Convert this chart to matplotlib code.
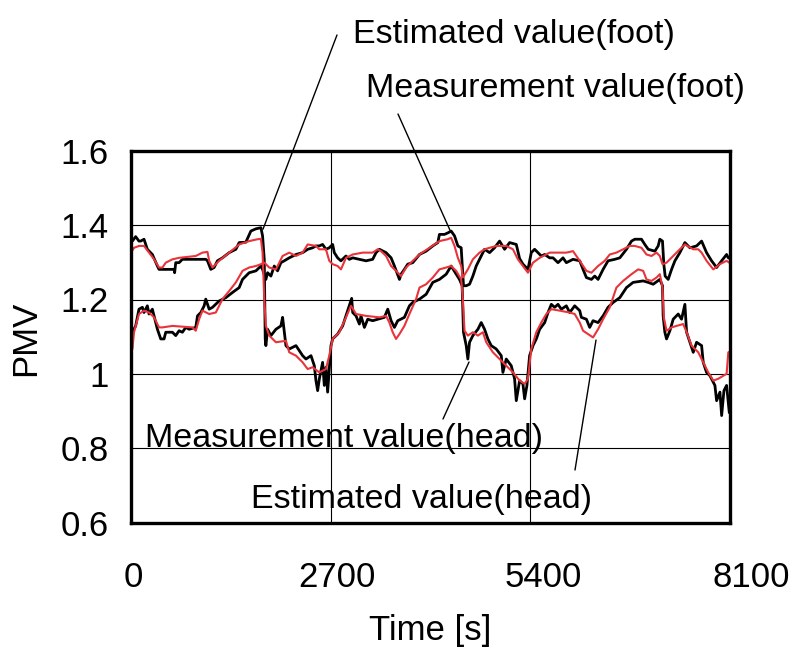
import matplotlib
matplotlib.use("Agg")
import matplotlib.pyplot as plt

plt.rcParams['font.family'] = ['Liberation Sans', 'DejaVu Sans']

# head sensor, measured
t_head_meas = [0, 18, 63, 108, 131, 176, 221, 289, 357, 379, 470, 583, 590, 605, 650, 695,
               1011, 1034, 1079, 1124, 1169, 1237, 1328, 1418, 1463, 1553, 1621, 1689, 1757,
               1779, 1802, 1815, 1824, 1847, 1892, 1960, 2027, 2050, 2072, 2095, 2140, 2231,
               2321, 2366, 2434, 2479, 2501, 2524, 2547, 2591, 2614, 2636, 2659, 2681, 2704,
               2727, 2794, 2862, 2907, 2952, 2984, 2998, 3043, 3088, 3110, 3156, 3201, 3268,
               3336, 3426, 3472, 3517, 3562, 3607, 3697, 3765, 3810, 3901, 3991, 4081, 4171,
               4262, 4329, 4397, 4442, 4478, 4496, 4533, 4555, 4578, 4623, 4691, 4736, 4781,
               4826, 4871, 4939, 5007, 5029, 5074, 5142, 5187, 5210, 5255, 5300, 5323, 5354,
               5390, 5436, 5481, 5526, 5594, 5639, 5684, 5729, 5774, 5819, 5887, 5932, 6000,
               6068, 6090, 6158, 6203, 6248, 6316, 6384, 6451, 6519, 6610, 6700, 6790, 6926,
               6994, 7061, 7151, 7187, 7196, 7219, 7242, 7287, 7332, 7400, 7445, 7490, 7513,
               7558, 7603, 7648, 7716, 7738, 7783, 7829, 7896, 7919, 7964, 7987, 8018, 8054,
               8090]
head_meas = [1.360, 1.357, 1.369, 1.357, 1.357, 1.362, 1.335, 1.321, 1.290, 1.281, 1.281,
             1.281, 1.272, 1.299, 1.299, 1.308, 1.308, 1.304, 1.281, 1.286, 1.304, 1.312,
             1.326, 1.335, 1.353, 1.354, 1.384, 1.390, 1.393, 1.371, 1.308, 1.094, 1.076,
             1.120, 1.103, 1.120, 1.129, 1.152, 1.116, 1.076, 1.067, 1.076, 1.049, 1.040,
             1.049, 1.022, 0.982, 0.955, 0.987, 1.031, 0.969, 1.018, 0.951, 1.013, 1.076,
             1.094, 1.107, 1.129, 1.156, 1.183, 1.203, 1.165, 1.156, 1.134, 1.156, 1.125,
             1.147, 1.143, 1.147, 1.152, 1.174, 1.143, 1.125, 1.143, 1.152, 1.183, 1.192,
             1.201, 1.214, 1.246, 1.254, 1.268, 1.290, 1.268, 1.254, 1.237, 1.112, 1.076,
             1.040, 1.085, 1.103, 1.120, 1.138, 1.120, 1.094, 1.076, 1.067, 1.049, 1.004,
             1.040, 1.022, 0.987, 0.928, 0.982, 0.973, 0.933, 0.969, 1.049, 1.076, 1.094,
             1.120, 1.138, 1.165, 1.187, 1.179, 1.187, 1.174, 1.183, 1.165, 1.183, 1.170,
             1.152, 1.147, 1.125, 1.143, 1.138, 1.156, 1.179, 1.192, 1.205, 1.232, 1.246,
             1.250, 1.246, 1.241, 1.254, 1.237, 1.156, 1.112, 1.094, 1.116, 1.147, 1.161,
             1.147, 1.187, 1.112, 1.085, 1.058, 1.085, 1.076, 1.031, 1.004, 0.995, 0.969,
             0.928, 0.951, 0.888, 0.955, 0.969, 0.897]

# head sensor, estimated
t_head_est = [0, 41, 108, 176, 244, 312, 379, 425, 470, 560, 650, 876, 966, 1034, 1057, 1102,
              1192, 1328, 1463, 1598, 1711, 1757, 1779, 1802, 1824, 1869, 1960, 2095, 2140,
              2231, 2321, 2389, 2456, 2546, 2636, 2681, 2727, 2817, 2907, 2975, 3043, 3178,
              3359, 3449, 3494, 3539, 3584, 3630, 3697, 3765, 3855, 3901, 3991, 4081, 4171,
              4262, 4329, 4397, 4465, 4487, 4510, 4555, 4623, 4691, 4758, 4804, 4894, 4984,
              5074, 5165, 5255, 5323, 5368, 5413, 5481, 5548, 5616, 5684, 5797, 5932, 6000,
              6068, 6113, 6181, 6248, 6316, 6384, 6474, 6564, 6655, 6768, 6858, 6926, 6971,
              7039, 7106, 7151, 7187, 7205, 7242, 7310, 7377, 7467, 7513, 7580, 7671, 7738,
              7806, 7874, 7942, 8009, 8054, 8077, 8100]
head_est = [1.326, 1.339, 1.344, 1.344, 1.326, 1.308, 1.286, 1.286, 1.299, 1.308, 1.312,
            1.317, 1.326, 1.328, 1.304, 1.286, 1.304, 1.326, 1.348, 1.357, 1.362, 1.363,
            1.326, 1.201, 1.129, 1.103, 1.085, 1.089, 1.058, 1.049, 1.031, 1.013, 1.018,
            1.004, 1.013, 1.049, 1.094, 1.112, 1.152, 1.183, 1.161, 1.156, 1.152, 1.156,
            1.138, 1.112, 1.094, 1.107, 1.129, 1.161, 1.201, 1.232, 1.241, 1.259, 1.281,
            1.286, 1.290, 1.277, 1.254, 1.201, 1.116, 1.103, 1.112, 1.103, 1.112, 1.085,
            1.058, 1.040, 1.022, 1.004, 0.982, 0.973, 0.987, 1.067, 1.112, 1.138, 1.161,
            1.174, 1.170, 1.165, 1.161, 1.138, 1.116, 1.107, 1.098, 1.120, 1.147, 1.179,
            1.232, 1.250, 1.268, 1.281, 1.277, 1.254, 1.250, 1.259, 1.268, 1.232, 1.152,
            1.116, 1.125, 1.129, 1.134, 1.112, 1.076, 1.058, 1.031, 1.004, 0.982, 0.987,
            0.995, 1.000, 1.058, 1.060]

# foot sensor, measured
t_foot_meas = [0, 18, 63, 108, 154, 176, 221, 244, 289, 312, 357, 402, 447, 470, 560, 605,
               650, 695, 741, 786, 876, 899, 944, 989, 1011, 1057, 1102, 1192, 1282, 1373,
               1463, 1508, 1598, 1689, 1757, 1779, 1824, 1847, 1892, 1937, 1982, 2027, 2072,
               2140, 2231, 2321, 2389, 2456, 2501, 2546, 2591, 2636, 2681, 2727, 2749, 2794,
               2839, 2907, 2952, 2998, 3088, 3178, 3268, 3314, 3359, 3449, 3517, 3562, 3630,
               3652, 3697, 3742, 3810, 3901, 3991, 4081, 4149, 4171, 4239, 4284, 4329, 4375,
               4420, 4465, 4496, 4533, 4578, 4623, 4668, 4713, 4781, 4849, 4916, 4984, 5052,
               5120, 5210, 5255, 5300, 5368, 5413, 5458, 5503, 5548, 5594, 5661, 5707, 5774,
               5842, 5887, 5977, 6068, 6113, 6158, 6226, 6271, 6316, 6384, 6451, 6542, 6610,
               6700, 6768, 6813, 6903, 6948, 6994, 7084, 7129, 7151, 7187, 7205, 7223, 7264,
               7310, 7355, 7422, 7490, 7558, 7648, 7716, 7783, 7851, 7919, 7987, 8054, 8077,
               8100]
foot_meas = [1.020, 1.112, 1.129, 1.174, 1.179, 1.165, 1.183, 1.161, 1.174, 1.156, 1.120,
             1.094, 1.094, 1.112, 1.112, 1.103, 1.116, 1.112, 1.125, 1.120, 1.125, 1.156,
             1.165, 1.183, 1.201, 1.174, 1.179, 1.196, 1.205, 1.219, 1.232, 1.254, 1.272,
             1.277, 1.290, 1.281, 1.254, 1.272, 1.263, 1.290, 1.277, 1.299, 1.304, 1.312,
             1.321, 1.326, 1.335, 1.339, 1.344, 1.344, 1.348, 1.335, 1.339, 1.348, 1.326,
             1.312, 1.304, 1.317, 1.308, 1.312, 1.308, 1.304, 1.308, 1.326, 1.335, 1.326,
             1.312, 1.290, 1.254, 1.268, 1.281, 1.295, 1.299, 1.321, 1.330, 1.344, 1.353,
             1.375, 1.375, 1.379, 1.384, 1.371, 1.344, 1.339, 1.237, 1.237, 1.241, 1.263,
             1.290, 1.308, 1.335, 1.326, 1.339, 1.357, 1.335, 1.353, 1.348, 1.310, 1.295,
             1.281, 1.326, 1.335, 1.326, 1.317, 1.321, 1.312, 1.312, 1.299, 1.312, 1.299,
             1.308, 1.304, 1.281, 1.259, 1.254, 1.263, 1.254, 1.281, 1.304, 1.308, 1.312,
             1.335, 1.357, 1.362, 1.362, 1.348, 1.335, 1.330, 1.344, 1.362, 1.357, 1.295,
             1.263, 1.254, 1.281, 1.304, 1.326, 1.353, 1.339, 1.344, 1.357, 1.326, 1.304,
             1.286, 1.304, 1.321, 1.312, 1.310]

# foot sensor, estimated
t_foot_est = [0, 18, 41, 108, 176, 244, 312, 379, 425, 560, 831, 876, 921, 966, 1057, 1147,
              1237, 1328, 1418, 1508, 1598, 1689, 1757, 1802, 1824, 1869, 1960, 2050, 2140,
              2231, 2321, 2389, 2501, 2546, 2636, 2681, 2727, 2794, 2839, 2907, 2998, 3133,
              3268, 3336, 3381, 3449, 3517, 3584, 3652, 3720, 3810, 3901, 4036, 4171, 4284,
              4329, 4375, 4420, 4465, 4487, 4555, 4623, 4713, 4781, 4849, 4939, 5074, 5165,
              5232, 5300, 5368, 5436, 5526, 5661, 5797, 5887, 5977, 6068, 6158, 6226, 6316,
              6406, 6474, 6564, 6655, 6745, 6813, 6903, 6971, 7039, 7106, 7151, 7187, 7242,
              7332, 7422, 7490, 7603, 7671, 7716, 7783, 7874, 7964, 8054, 8090]
foot_est = [1.060, 1.067, 1.112, 1.161, 1.170, 1.165, 1.152, 1.125, 1.125, 1.129, 1.125,
            1.116, 1.147, 1.170, 1.161, 1.165, 1.201, 1.223, 1.246, 1.277, 1.286, 1.290,
            1.295, 1.299, 1.295, 1.286, 1.281, 1.317, 1.326, 1.317, 1.326, 1.348, 1.344,
            1.335, 1.335, 1.304, 1.295, 1.290, 1.281, 1.312, 1.321, 1.326, 1.326, 1.335,
            1.330, 1.317, 1.290, 1.277, 1.263, 1.286, 1.304, 1.321, 1.339, 1.357, 1.362,
            1.366, 1.344, 1.312, 1.290, 1.259, 1.281, 1.308, 1.326, 1.335, 1.339, 1.344,
            1.344, 1.335, 1.308, 1.290, 1.272, 1.299, 1.312, 1.326, 1.326, 1.326, 1.330,
            1.304, 1.277, 1.272, 1.290, 1.304, 1.321, 1.326, 1.335, 1.344, 1.344, 1.339,
            1.321, 1.317, 1.326, 1.317, 1.295, 1.299, 1.317, 1.335, 1.348, 1.335, 1.335,
            1.326, 1.304, 1.281, 1.295, 1.304, 1.299]

x_ticks = [0, 2700, 5400, 8100]
x_tick_labels = ['0', '2700', '5400', '8100']
y_ticks = [0.6, 0.8, 1.0, 1.2, 1.4, 1.6]
y_tick_labels = ['0.6', '0.8', '1', '1.2', '1.4', '1.6']

# callouts: text, text anchor (figure px), line start (figure px), line end (data)
callouts = [
    ('Estimated value(foot)', (353, 609), (337, 617), (1785, 1.389)),
    ('Measurement value(foot)', (366, 555), (398, 538), (4314, 1.386)),
    ('Measurement value(head)', (145, 205), (443, 233), (4571, 1.032)),
    ('Estimated value(head)', (251, 144), (575, 182), (6288, 1.091)),
]

FS = 25
RED = '#e8343a'

fig = plt.figure(figsize=(8, 6.52), dpi=100)
ax = fig.add_axes([131 / 800, 129.3 / 652, 599 / 800, 372 / 652])

ax.plot(t_foot_meas, foot_meas, color='black', lw=2.0, zorder=3)
ax.plot(t_head_meas, head_meas, color='black', lw=2.0, zorder=3)
ax.plot(t_foot_est, foot_est, color=RED, lw=1.5, zorder=4)
ax.plot(t_head_est, head_est, color=RED, lw=1.5, zorder=4)

ax.set_xlim(0, 8100)
ax.set_ylim(0.6, 1.6)
ax.set_xticks(x_ticks)
ax.set_yticks(y_ticks)
ax.set_yticklabels(y_tick_labels)
ax.set_xticklabels([])
ax.tick_params(length=0)
ax.tick_params(axis='y', pad=16, labelsize=FS)
ax.grid(True, color='black', lw=0.8, zorder=1)
for s in ax.spines.values():
    s.set_linewidth(2.4)
    s.set_zorder(5)

# x tick labels drawn with a slight rightward drift
drift = [2, 6, 13, 21]
for xt, lab, dx in zip(x_ticks, x_tick_labels, drift):
    ax.annotate(lab, xy=(xt, 0), xycoords=('data', 'axes fraction'),
                xytext=(dx, -64), textcoords='offset pixels',
                ha='center', va='baseline', fontsize=FS)

ax.annotate('Time [s]', xy=(0.5, 0), xycoords='axes fraction',
            xytext=(0, -117), textcoords='offset pixels',
            ha='center', va='baseline', fontsize=FS)
ax.annotate('PMV', xy=(0, 0.5), xycoords='axes fraction',
            xytext=(-105, -2), textcoords='offset pixels',
            ha='center', va='center', rotation=90, fontsize=FS)

for label, txy, start, end in callouts:
    fig.text(txy[0] / 800, txy[1] / 652, label, ha='left', va='baseline', fontsize=24.5)
    ax.annotate('', xy=end, xycoords='data', xytext=start, textcoords='figure pixels',
                arrowprops=dict(arrowstyle='-', color='black', lw=1.0,
                                shrinkA=0, shrinkB=0),
                annotation_clip=False)

fig.savefig('out.png', dpi=100)
